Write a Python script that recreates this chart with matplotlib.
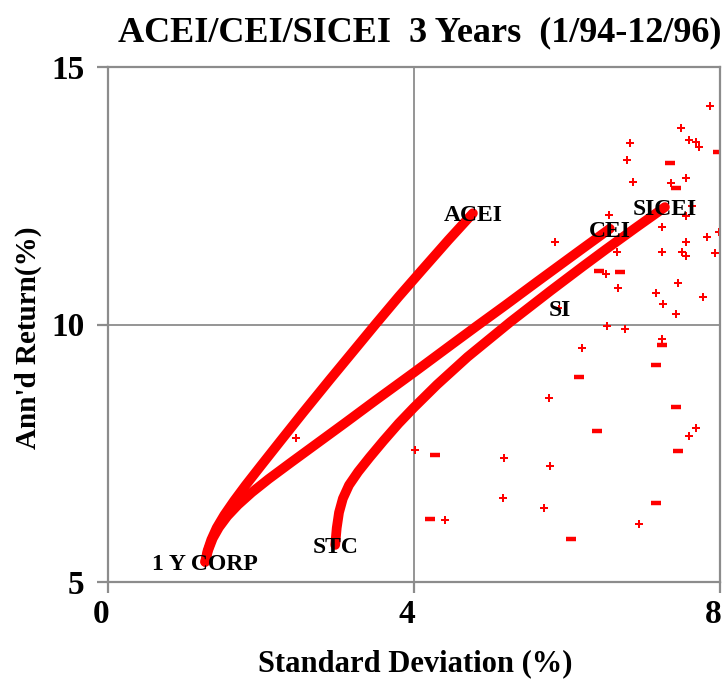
import matplotlib
matplotlib.use("Agg")
import matplotlib.pyplot as plt
import matplotlib.transforms as mtransforms

# ---------------- data ----------------
acei_x = [1.27, 1.30, 1.35, 1.42, 1.52, 1.65, 1.80, 2.00, 2.25, 2.55, 2.90, 3.20, 3.50, 3.80, 4.10, 4.45, 4.77]
acei_y = [5.39, 5.60, 5.82, 6.05, 6.30, 6.58, 6.88, 7.26, 7.73, 8.29, 8.93, 9.47, 10.01, 10.54, 11.05, 11.64, 12.16]

cei_x = [1.27, 1.31, 1.37, 1.45, 1.56, 1.70, 1.88, 2.10, 2.40, 2.75, 3.10, 3.50, 4.00, 4.50, 4.82, 5.20, 5.60, 6.18, 6.56]
cei_y = [5.39, 5.62, 5.85, 6.06, 6.28, 6.50, 6.74, 7.00, 7.33, 7.71, 8.09, 8.53, 9.07, 9.62, 9.97, 10.38, 10.82, 11.45, 11.86]

sicei_x = [2.97, 2.99, 3.02, 3.07, 3.15, 3.27, 3.42, 3.60, 3.80, 4.00, 4.30, 4.70, 5.26, 5.79, 6.20, 6.50, 6.90, 7.28]
sicei_y = [5.72, 6.05, 6.35, 6.62, 6.88, 7.14, 7.42, 7.74, 8.08, 8.39, 8.83, 9.37, 10.05, 10.66, 11.12, 11.45, 11.88, 12.28]

si_point = (5.90, 10.33)

plus_x = [7.87, 7.49, 7.59, 7.68, 7.72, 6.83, 6.78, 6.86, 7.56, 7.36, 7.64, 7.56, 6.55, 7.24,
          5.84, 7.83, 7.99, 7.56, 6.66, 7.24, 7.50, 7.56, 7.94, 6.51, 7.45, 6.67, 7.16, 7.26,
          7.78, 7.42, 6.52, 6.76, 7.24, 6.20, 5.77, 7.68, 7.59, 4.01, 5.18, 5.78, 5.16, 5.70,
          4.41, 6.94, 2.46]
plus_y = [14.24, 13.82, 13.58, 13.55, 13.45, 13.52, 13.19, 12.77, 12.84, 12.74, 12.31, 12.11, 12.12, 11.89,
          11.61, 11.69, 11.80, 11.61, 11.41, 11.41, 11.41, 11.33, 11.38, 10.99, 10.80, 10.71, 10.61, 10.40,
          10.53, 10.20, 9.97, 9.91, 9.72, 9.55, 8.58, 8.00, 7.83, 7.57, 7.41, 7.26, 6.63, 6.44,
          6.20, 6.12, 7.80]

dash_x = [7.35, 7.97, 7.43, 6.42, 6.69, 7.24, 7.16, 6.16, 7.43, 6.39, 7.45, 4.28, 4.21, 7.16, 6.05]
dash_y = [13.14, 13.35, 12.66, 11.04, 11.01, 9.60, 9.22, 8.99, 8.40, 7.94, 7.55, 7.47, 6.22, 6.53, 5.83]

title = "ACEI/CEI/SICEI  3 Years  (1/94-12/96)"
xlabel = "Standard Deviation (%)"
ylabel = "Ann'd Return(%)"
xticks = [0, 4, 8]
yticks = [5, 10, 15]

# ---------------- figure ----------------
plt.rcParams['font.family'] = ['Liberation Serif', 'DejaVu Serif']
RED = '#ff0000'
GRAY = '#8c8c8c'

fig = plt.figure(figsize=(7.26, 6.83), dpi=100)
ax = fig.add_axes([108/726, 1-582/683, 612/726, 515/683])
ax.set_xlim(0, 8)
ax.set_ylim(5, 15)

for s in ax.spines.values():
    s.set_color(GRAY)
    s.set_linewidth(1.6)

ax.set_xticks(xticks)
ax.set_yticks(yticks)
ax.tick_params(axis='both', direction='out', length=8, width=1.6, color=GRAY,
               labelsize=24)
ax.tick_params(axis='x', pad=4)
ax.tick_params(axis='y', pad=9)
shift = mtransforms.ScaledTranslation(-7/100, 0, fig.dpi_scale_trans)
for lab in ax.get_xticklabels():
    lab.set_transform(lab.get_transform() + shift)
for lab in ax.get_xticklabels() + ax.get_yticklabels():
    lab.set_fontweight('bold')

ax.axvline(4, color=GRAY, lw=1.3, zorder=1)
ax.axhline(10, color=GRAY, lw=1.3, zorder=1)

kw = dict(color=RED, lw=7, solid_capstyle='round', solid_joinstyle='round', zorder=3)
ax.plot(acei_x, acei_y, **kw)
ax.plot(cei_x, cei_y, **kw)
ax.plot(sicei_x, sicei_y, **kw)

ax.plot(plus_x, plus_y, linestyle='none', marker='P', markersize=6, color=RED,
        markeredgewidth=0, zorder=2)
ax.plot(dash_x, dash_y, linestyle='none', marker='_', markersize=6.5, color=RED,
        markeredgewidth=3.2, zorder=2)
ax.plot([si_point[0]], [si_point[1]], linestyle='none', marker='P', markersize=5,
        color=RED, markeredgewidth=0, zorder=2)

labels = [
    ("ACEI", acei_x[-1], acei_y[-1]),
    ("CEI", cei_x[-1], cei_y[-1]),
    ("SICEI", sicei_x[-1], sicei_y[-1]),
    ("SI", si_point[0], si_point[1]),
    ("STC", sicei_x[0], sicei_y[0]),
    ("1 Y CORP", acei_x[0], acei_y[0]),
]
for txt, x, y in labels:
    ax.text(x, y, txt, ha='center', va='center_baseline', fontsize=17,
            fontweight='bold', color='black', zorder=4)

fig.text(420/726, 1-33/683, title, ha='center', va='center', fontsize=26,
         fontweight='bold')
fig.text(415/726, 1-664/683, xlabel, ha='center', va='center', fontsize=22,
         fontweight='bold')
fig.text(28/726, 1-338/683, ylabel, ha='center', va='center', fontsize=21,
         fontweight='bold', rotation=90)

fig.savefig("out.png", dpi=100)
